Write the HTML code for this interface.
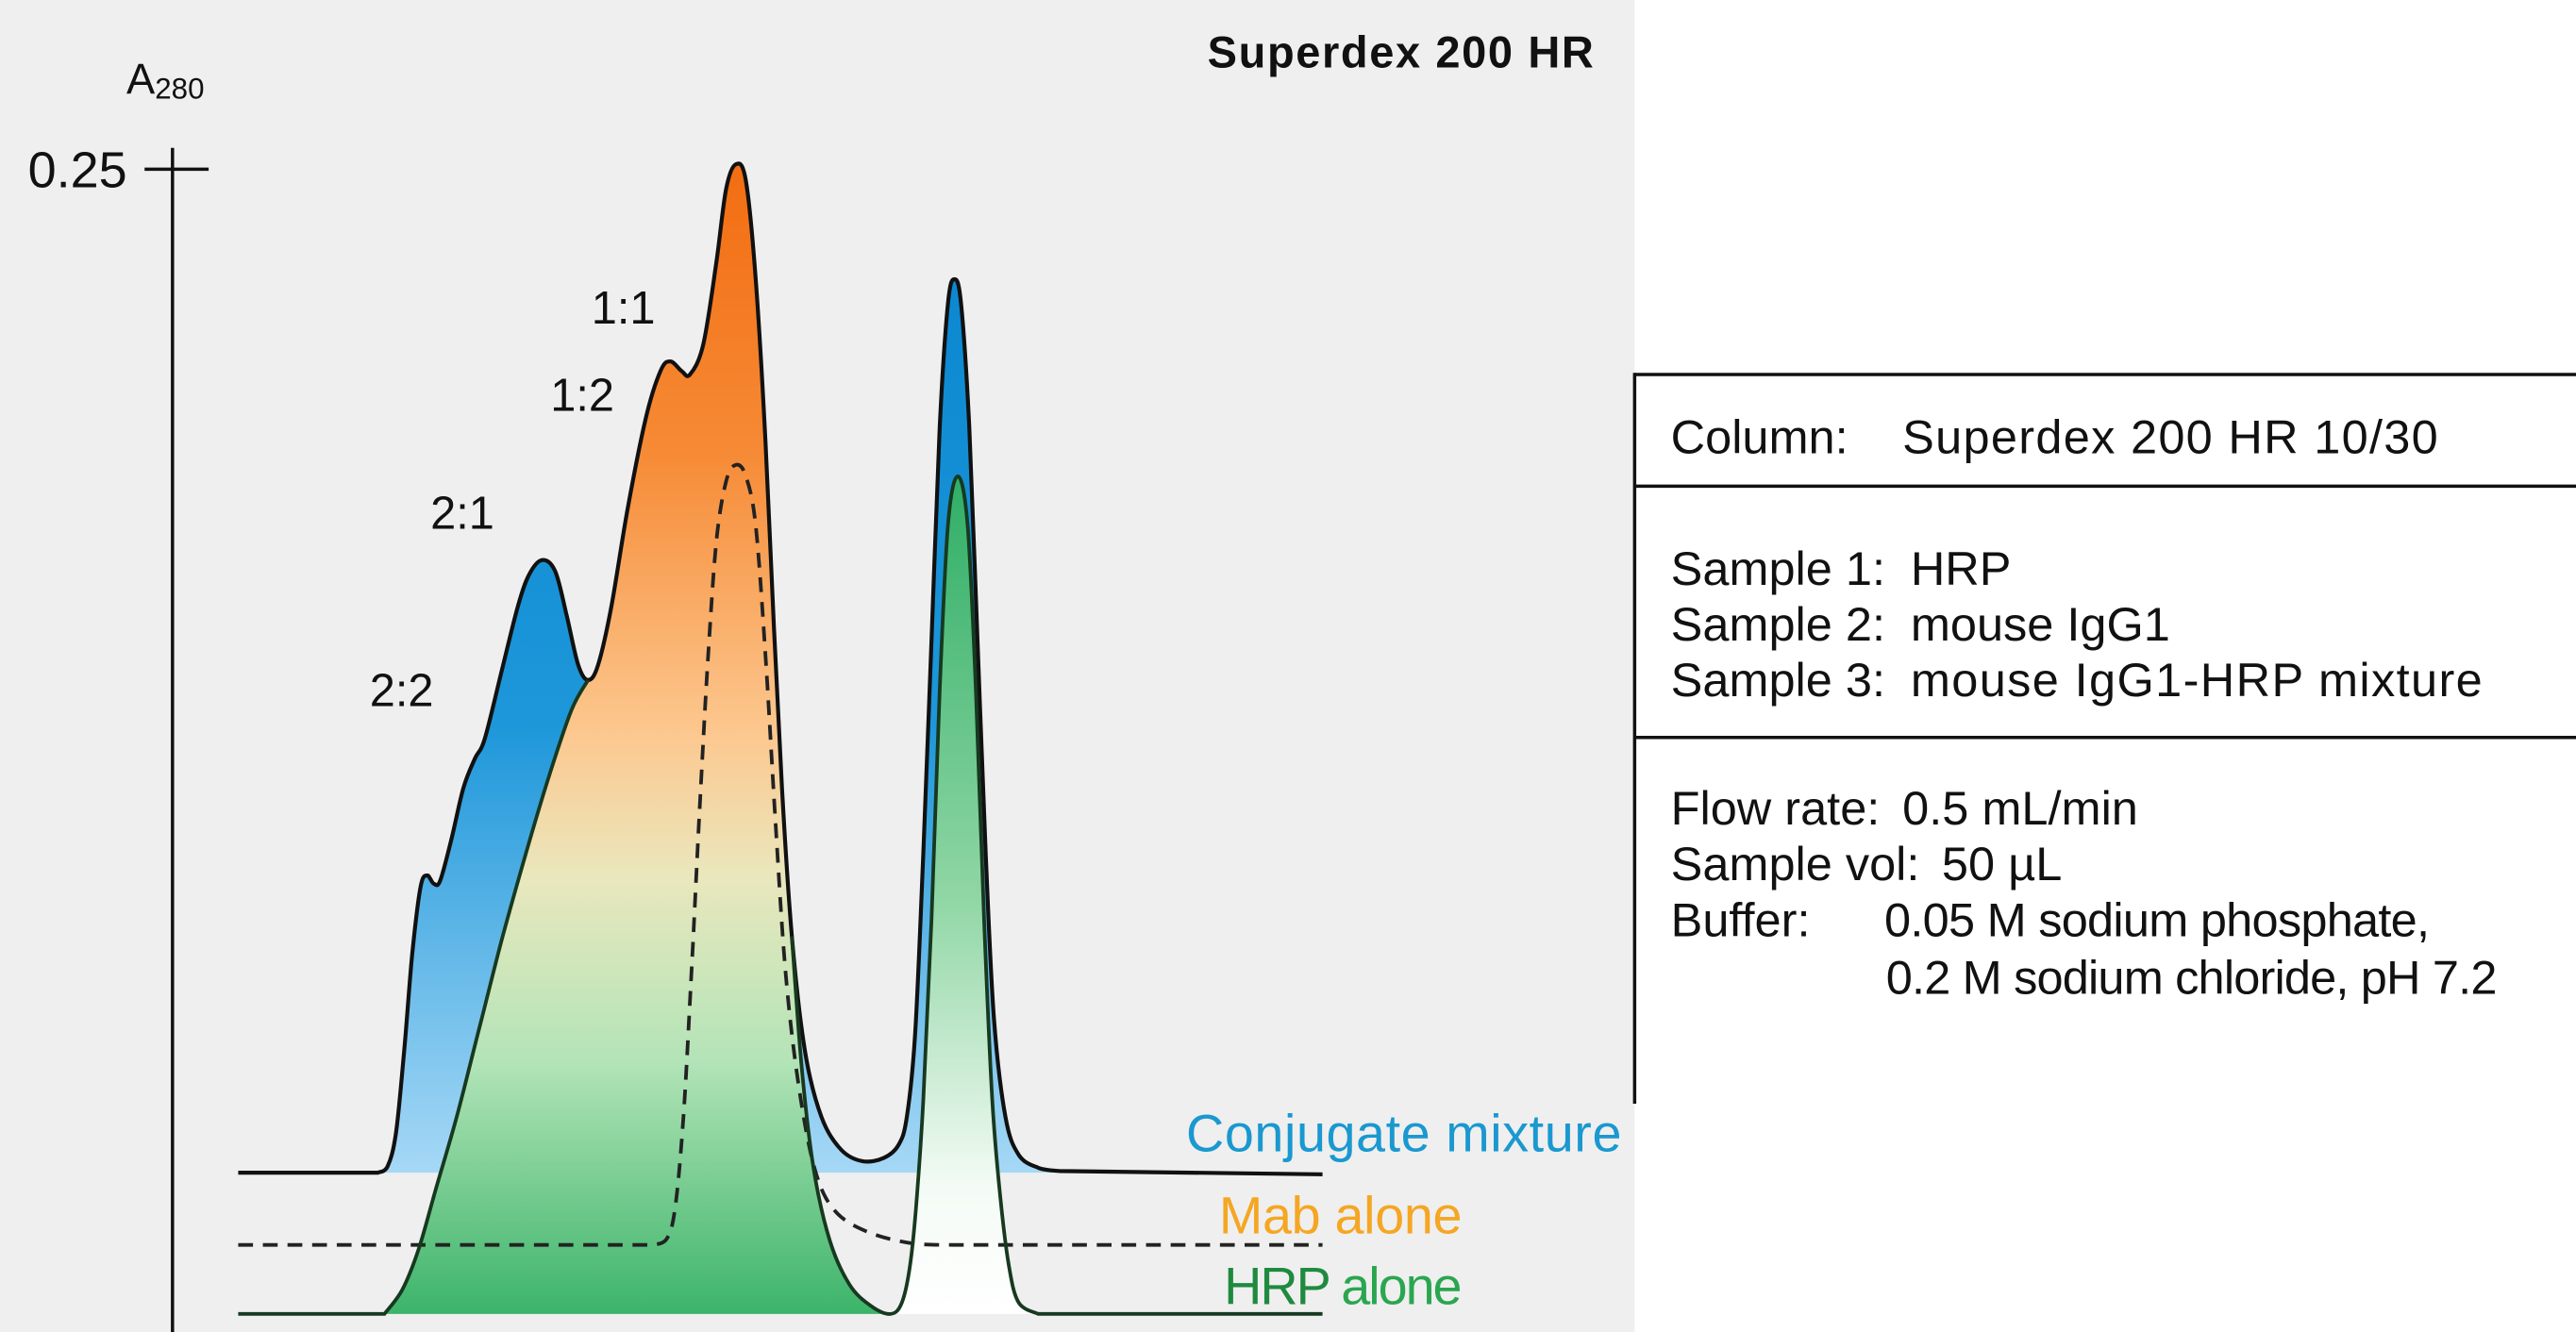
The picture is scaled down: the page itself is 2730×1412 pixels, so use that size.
<!DOCTYPE html>
<html><head><meta charset="utf-8"><style>
html,body{margin:0;padding:0;background:#fff}
svg{display:block}
text{font-family:"Liberation Sans",sans-serif}
</style></head><body>
<svg width="2730" height="1412" viewBox="0 0 1568 811" xmlns="http://www.w3.org/2000/svg">
<defs>
<linearGradient id="bl" gradientUnits="userSpaceOnUse" x1="0" y1="170" x2="0" y2="714">
<stop offset="0" stop-color="#0b88d0"/><stop offset="0.5" stop-color="#1e97da"/><stop offset="1" stop-color="#a6d8f6"/>
</linearGradient>
<linearGradient id="og" gradientUnits="userSpaceOnUse" x1="0" y1="100" x2="0" y2="800">
<stop offset="0" stop-color="#f26d12"/><stop offset="0.25" stop-color="#f68a35"/><stop offset="0.5" stop-color="#fcc991"/><stop offset="0.62" stop-color="#eae7bd"/><stop offset="0.78" stop-color="#b3e4b8"/><stop offset="1" stop-color="#3cb46a"/>
</linearGradient>
<linearGradient id="gr" gradientUnits="userSpaceOnUse" x1="0" y1="290" x2="0" y2="800">
<stop offset="0" stop-color="#2fae66"/><stop offset="0.5" stop-color="#8fd6a4"/><stop offset="0.85" stop-color="#f4fbf5"/><stop offset="1" stop-color="#ffffff"/>
</linearGradient>
</defs>
<rect x="0" y="0" width="995" height="811" fill="#efefef"/>
<rect x="995" y="0" width="573" height="811" fill="#ffffff"/>

<path id="conjFill" fill="url(#bl)"/>
<path id="ogFill" fill="url(#og)"/>
<path id="grFill" fill="url(#gr)"/>

<line x1="105" y1="90" x2="105" y2="811" stroke="#111" stroke-width="2"/>
<line x1="88" y1="103" x2="127" y2="103" stroke="#111" stroke-width="2"/>
<text x="17" y="114" font-size="31" fill="#111">0.25</text>
<text x="77" y="57" font-size="26" fill="#111">A<tspan font-size="18" dy="3">280</tspan></text>
<text x="735" y="41" font-size="27" font-weight="bold" fill="#111" textLength="235">Superdex 200 HR</text>

<path id="conjLine" fill="none" stroke="#111" stroke-width="2.4"/>
<path id="mabLine" fill="none" stroke="#222" stroke-width="2.2" stroke-dasharray="9,6"/>
<path id="hrpLine1" fill="none" stroke="#17391f" stroke-width="2.2"/>
<path id="hrpLine2" fill="none" stroke="#17391f" stroke-width="2.2"/>

<text x="360" y="197" font-size="28" fill="#111">1:1</text>
<text x="335" y="250" font-size="28" fill="#111">1:2</text>
<text x="262" y="322" font-size="28" fill="#111">2:1</text>
<text x="225" y="430" font-size="28" fill="#111">2:2</text>

<text x="722" y="701" font-size="32" fill="#1a98d0" textLength="265">Conjugate mixture</text>
<text x="742" y="751" font-size="32" fill="#f5a623" textLength="148">Mab alone</text>
<text x="745" y="794" font-size="32" fill="#1f8a3f" textLength="145">HRP <tspan fill="#2aa650">alone</tspan></text>

<line x1="995" y1="228" x2="1568" y2="228" stroke="#111" stroke-width="2"/>
<line x1="995" y1="296" x2="1568" y2="296" stroke="#111" stroke-width="2"/>
<line x1="995" y1="449" x2="1568" y2="449" stroke="#111" stroke-width="2"/>
<line x1="995" y1="227" x2="995" y2="672" stroke="#111" stroke-width="2"/>
<g font-size="29" fill="#111">
<text x="1017" y="276">Column:</text><text x="1158" y="276" textLength="326">Superdex 200 HR 10/30</text>
<text x="1017" y="356">Sample 1:</text><text x="1163" y="356">HRP</text>
<text x="1017" y="390">Sample 2:</text><text x="1163" y="390">mouse IgG1</text>
<text x="1017" y="424">Sample 3:</text><text x="1163" y="424" textLength="348">mouse IgG1-HRP mixture</text>
<text x="1017" y="502">Flow rate:</text><text x="1158" y="502">0.5 mL/min</text>
<text x="1017" y="536">Sample vol:</text><text x="1182" y="536">50 µL</text>
<text x="1017" y="570">Buffer:</text><text x="1147" y="570" textLength="332">0.05 M sodium phosphate,</text>
<text x="1148" y="605" textLength="372">0.2 M sodium chloride, pH 7.2</text>
</g>
</svg>
<script>
function crs(p){var d="";for(var i=0;i<p.length-1;i++){var p0=p[i-1]||p[i],p1=p[i],p2=p[i+1],p3=p[i+2]||p2;var c1x=p1[0]+(p2[0]-p0[0])/6,c1y=p1[1]+(p2[1]-p0[1])/6,c2x=p2[0]-(p3[0]-p1[0])/6,c2y=p2[1]-(p3[1]-p1[1])/6;d+=" C"+c1x.toFixed(1)+","+c1y.toFixed(1)+" "+c2x.toFixed(1)+","+c2y.toFixed(1)+" "+p2[0]+","+p2[1];}return d;}
function cr(p){return "M"+p[0][0]+","+p[0][1]+crs(p);}
function $(id){return document.getElementById(id);}
var conj=[[230,714],[236,710],[241,690],[246,640],[251,580],[256,540],[260,533],[264,538],[268,536],[275,510],[282,480],[289,462],[295,450],[305,410],[315,370],[322,350],[330,341],[338,348],[345,375],[352,405],[358,414],[364,405],[372,370],[382,310],[393,255],[402,226],[408,220],[415,226],[420,228],[428,210],[436,160],[442,115],[448,100],[454,110],[460,170],[466,270],[471,380],[476,480],[482,570],[490,640],[500,680],[512,700],[525,707],[538,705],[547,697],[552,680],[557,630],[562,520],[567,390],[572,260],[577,185],[581,170],[585,185],[590,260],[595,390],[600,520],[605,620],[612,680],[620,703],[632,711],[645,713]];
$("conjLine").setAttribute("d","M145,714 L230,714"+crs(conj)+" L805,715");
$("conjFill").setAttribute("d",cr(conj)+" L645,714 L230,714 Z");
var left=[[234,800],[245,785],[255,760],[265,725],[278,680],[292,625],[306,570],[320,520],[335,470],[348,432],[358,414]];
var i0=conj.findIndex(function(q){return q[0]==358;}),i1=conj.findIndex(function(q){return q[0]==482;});
var topPts=conj.slice(i0+1,i1+1);
var right=[[482,570],[488,650],[495,710],[505,755],[517,782],[530,795],[542,800]];
var og=left.concat(topPts).concat(right.slice(1));
$("ogFill").setAttribute("d",cr(og)+" Z");
var hrpN=[[540,800],[549,793],[554,770],[558,730],[562,670],[567,560],[572,420],[577,320],[583,290],[589,320],[594,420],[599,560],[604,670],[609,730],[614,770],[620,793],[632,800]];
$("grFill").setAttribute("d",cr(hrpN)+" Z");
$("hrpLine1").setAttribute("d","M145,800 L234,800"+crs(left));
$("hrpLine2").setAttribute("d",cr(right.concat(hrpN.slice(1)))+" L805,800");
var mab=[[398,758],[406,754],[411,735],[416,680],[421,590],[426,490],[431,400],[436,330],[442,293],[448,283],[454,290],[460,320],[466,400],[472,500],[478,590],[486,660],[496,712],[508,737],[528,750],[555,757],[580,758]];
$("mabLine").setAttribute("d","M145,758 L398,758"+crs(mab)+" L805,758");
</script>
</body></html>
